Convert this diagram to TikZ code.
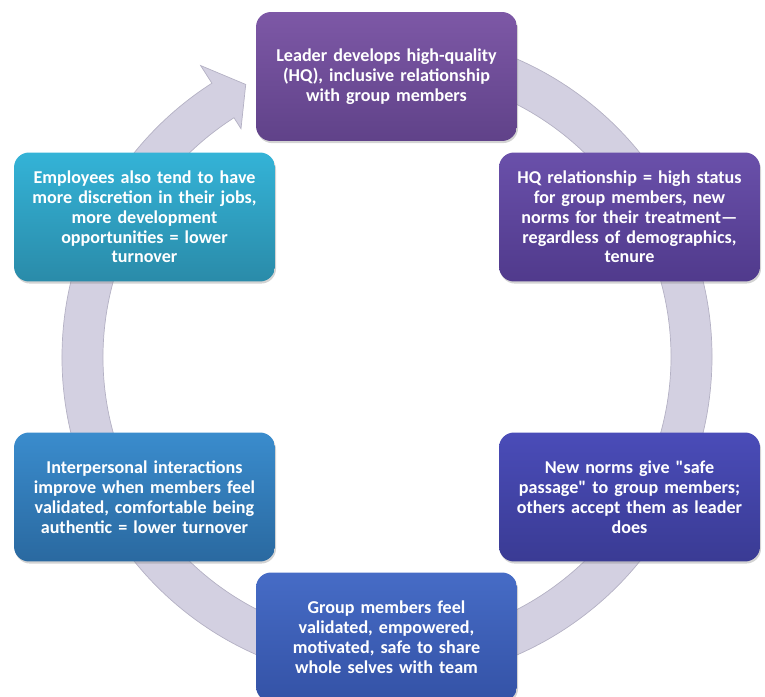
\documentclass[tikz,border=0pt]{standalone}
\usepackage{fontspec}
\setmainfont{Carlito}[Ligatures=TeXOff]
\usetikzlibrary{shadows}
\definecolor{bandfill}{HTML}{D3D0E1}
\definecolor{bandedge}{HTML}{B4B1C4}
\definecolor{topA}{HTML}{7D58A6}\definecolor{topB}{HTML}{604289}
\definecolor{trA}{HTML}{6A50AA}\definecolor{trB}{HTML}{503A8C}
\definecolor{brA}{HTML}{4A4CB8}\definecolor{brB}{HTML}{3A3B94}
\definecolor{botA}{HTML}{466CC6}\definecolor{botB}{HTML}{3452A6}
\definecolor{blA}{HTML}{3A8CCD}\definecolor{blB}{HTML}{2A69A0}
\definecolor{tlA}{HTML}{34B3D7}\definecolor{tlB}{HTML}{2A8BA9}
\begin{document}
\begin{tikzpicture}[x=0.02cm,y=0.02cm,
    cyclebox/.style={rounded corners=0.3cm,minimum width=5.22cm,minimum height=2.58cm,
      inner sep=0pt,text width=4.9cm,align=center,text=white,
      font=\fontsize{10.3pt}{11.3pt}\selectfont\bfseries,
      drop shadow={opacity=0.35,shadow xshift=0.6pt,shadow yshift=-1.2pt}},
    band/.style={fill=bandfill,draw=bandedge,line width=0.4pt}]
    \useasboundingbox (0,0) rectangle (765,697);
    \begin{scope}[shift={(387,340)}]
        \draw[band] (85:325) arc[start angle=85,end angle=-237.4,radius=325]
            -- (-237.4:346) -- (-242.6:307) -- (-237.4:271) -- (-237.4:284)
            arc[start angle=-237.4,end angle=85,radius=284] -- cycle;
    \end{scope}
    \node[cyclebox,top color=topA,bottom color=topB] (lead) at (386.5,620.5)
        {Leader develops high-quality\\(HQ), inclusive relationship\\with group members};
    \node[cyclebox,top color=trA,bottom color=trB] (status) at (629.5,480)
        {HQ relationship = high status\\for group members, new\\norms for their treatment—\\regardless of demographics,\\tenure};
    \node[cyclebox,top color=brA,bottom color=brB] (norms) at (629.5,200)
        {New norms give "safe\\passage" to group members;\\others accept them as leader\\does};
    \node[cyclebox,top color=botA,bottom color=botB] (feel) at (386.5,60)
        {Group members feel\\validated, empowered,\\motivated, safe to share\\whole selves with team};
    \node[cyclebox,top color=blA,bottom color=blB] (inter) at (144.5,200)
        {Interpersonal interactions\\improve when members feel\\validated, comfortable being\\authentic = lower turnover};
    \node[cyclebox,top color=tlA,bottom color=tlB] (discr) at (144.5,480)
        {Employees also tend to have\\more discretion in their jobs,\\more development\\opportunities = lower\\turnover};
\end{tikzpicture}
\end{document}
